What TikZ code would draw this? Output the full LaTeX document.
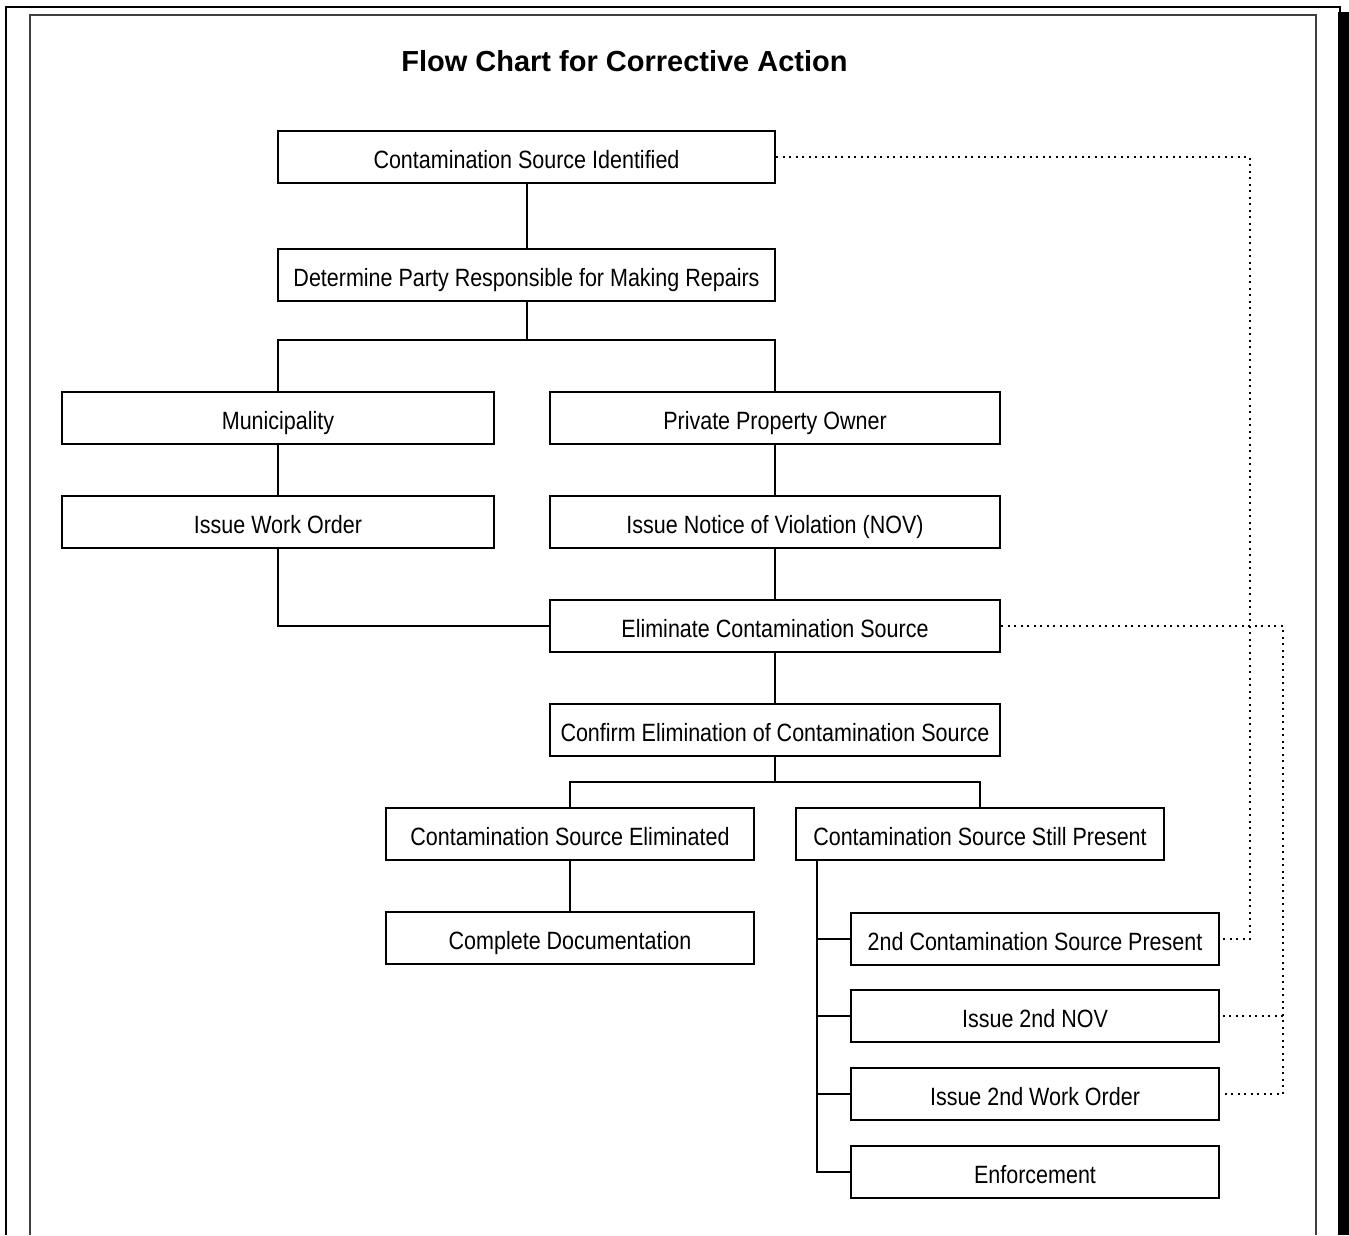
\documentclass[tikz,border=0pt]{standalone}
\usepackage{fontspec}
\setmainfont{Liberation Sans}
\newfontfamily\narrowfont{Liberation Sans}[FakeStretch=0.86]
\begin{document}
\begin{tikzpicture}[x=1pt,y=-1pt,
  box/.style={draw, line width=2.5pt, minimum height=52pt, inner sep=0pt, text height=22pt, text depth=0pt, font=\narrowfont\fontsize{25}{30}\selectfont},
  conn/.style={line width=2pt},
  dotline/.style={line width=2pt, dash pattern=on 2pt off 4.5pt},
  wA/.style={minimum width=497pt},
  wB/.style={minimum width=432pt},
  wC/.style={minimum width=450pt},
  wD/.style={minimum width=368pt}]
\useasboundingbox (0,0) rectangle (1349,1235);
% frames
\draw[line width=1.5pt] (6,1235) -- (6,7) -- (1340,7) -- (1340,12);
\fill (1338,12) rectangle (1349,1235);
\draw[line width=2pt, black!75] (30,1235) -- (30,15) -- (1316,15) -- (1316,1235);
% title
\node[font=\bfseries\fontsize{29}{34}\selectfont] (title) at (624.5,61) {Flow Chart for Corrective Action};
% boxes
\node[box,wA] (n1) at (526.5,157) {Contamination Source Identified};
\node[box,wA] (n2) at (526.5,275) {Determine Party Responsible for Making Repairs};
\node[box,wB] (mun) at (278,418) {Municipality};
\node[box,wB] (iwo) at (278,522) {Issue Work Order};
\node[box,wC] (ppo) at (775,418) {Private Property Owner};
\node[box,wC] (nov) at (775,522) {Issue Notice of Violation (NOV)};
\node[box,wC] (elim) at (775,626) {Eliminate Contamination Source};
\node[box,wC] (conf) at (775,730) {Confirm Elimination of Contamination Source};
\node[box,wD] (cse) at (570,834) {Contamination Source Eliminated};
\node[box,wD] (cssp) at (980,834) {Contamination Source Still Present};
\node[box,wD] (doc) at (570,938) {Complete Documentation};
\node[box,wD] (s2) at (1035,939) {2nd Contamination Source Present};
\node[box,wD] (nov2) at (1035,1016) {Issue 2nd NOV};
\node[box,wD] (wo2) at (1035,1094) {Issue 2nd Work Order};
\node[box,wD] (enf) at (1035,1172) {Enforcement};
% connectors
\draw[conn] (n1.south) -- (n2.north);
\coordinate (j1) at (526.5,340);
\draw[conn] (n2.south) -- (j1);
\draw[conn] (mun.north) |- (j1) -| (ppo.north);
\draw[conn] (mun.south) -- (iwo.north);
\draw[conn] (ppo.south) -- (nov.north);
\draw[conn] (nov.south) -- (elim.north);
\draw[conn] (elim.south) -- (conf.north);
\draw[conn] (iwo.south) |- (elim.west);
\coordinate (j2) at (775,782);
\draw[conn] (conf.south) -- (j2);
\draw[conn] (cse.north) |- (j2) -| (cssp.north);
\draw[conn] (cse.south) -- (doc.north);
\coordinate (t) at ([xshift=22pt]cssp.south west);
\draw[conn] (t) |- (enf.west);
\draw[conn] (t |- s2.west) -- (s2.west);
\draw[conn] (t |- nov2.west) -- (nov2.west);
\draw[conn] (t |- wo2.west) -- (wo2.west);
% dotted feedback lines
\coordinate (d1) at (1250,157);
\draw[dotline] (n1.east) -- (d1) |- (s2.east);
\coordinate (d2) at (1283,626);
\draw[dotline] (elim.east) -- (d2) |- (wo2.east);
\draw[dotline] (d2 |- nov2.east) -- (nov2.east);
\end{tikzpicture}
\end{document}
